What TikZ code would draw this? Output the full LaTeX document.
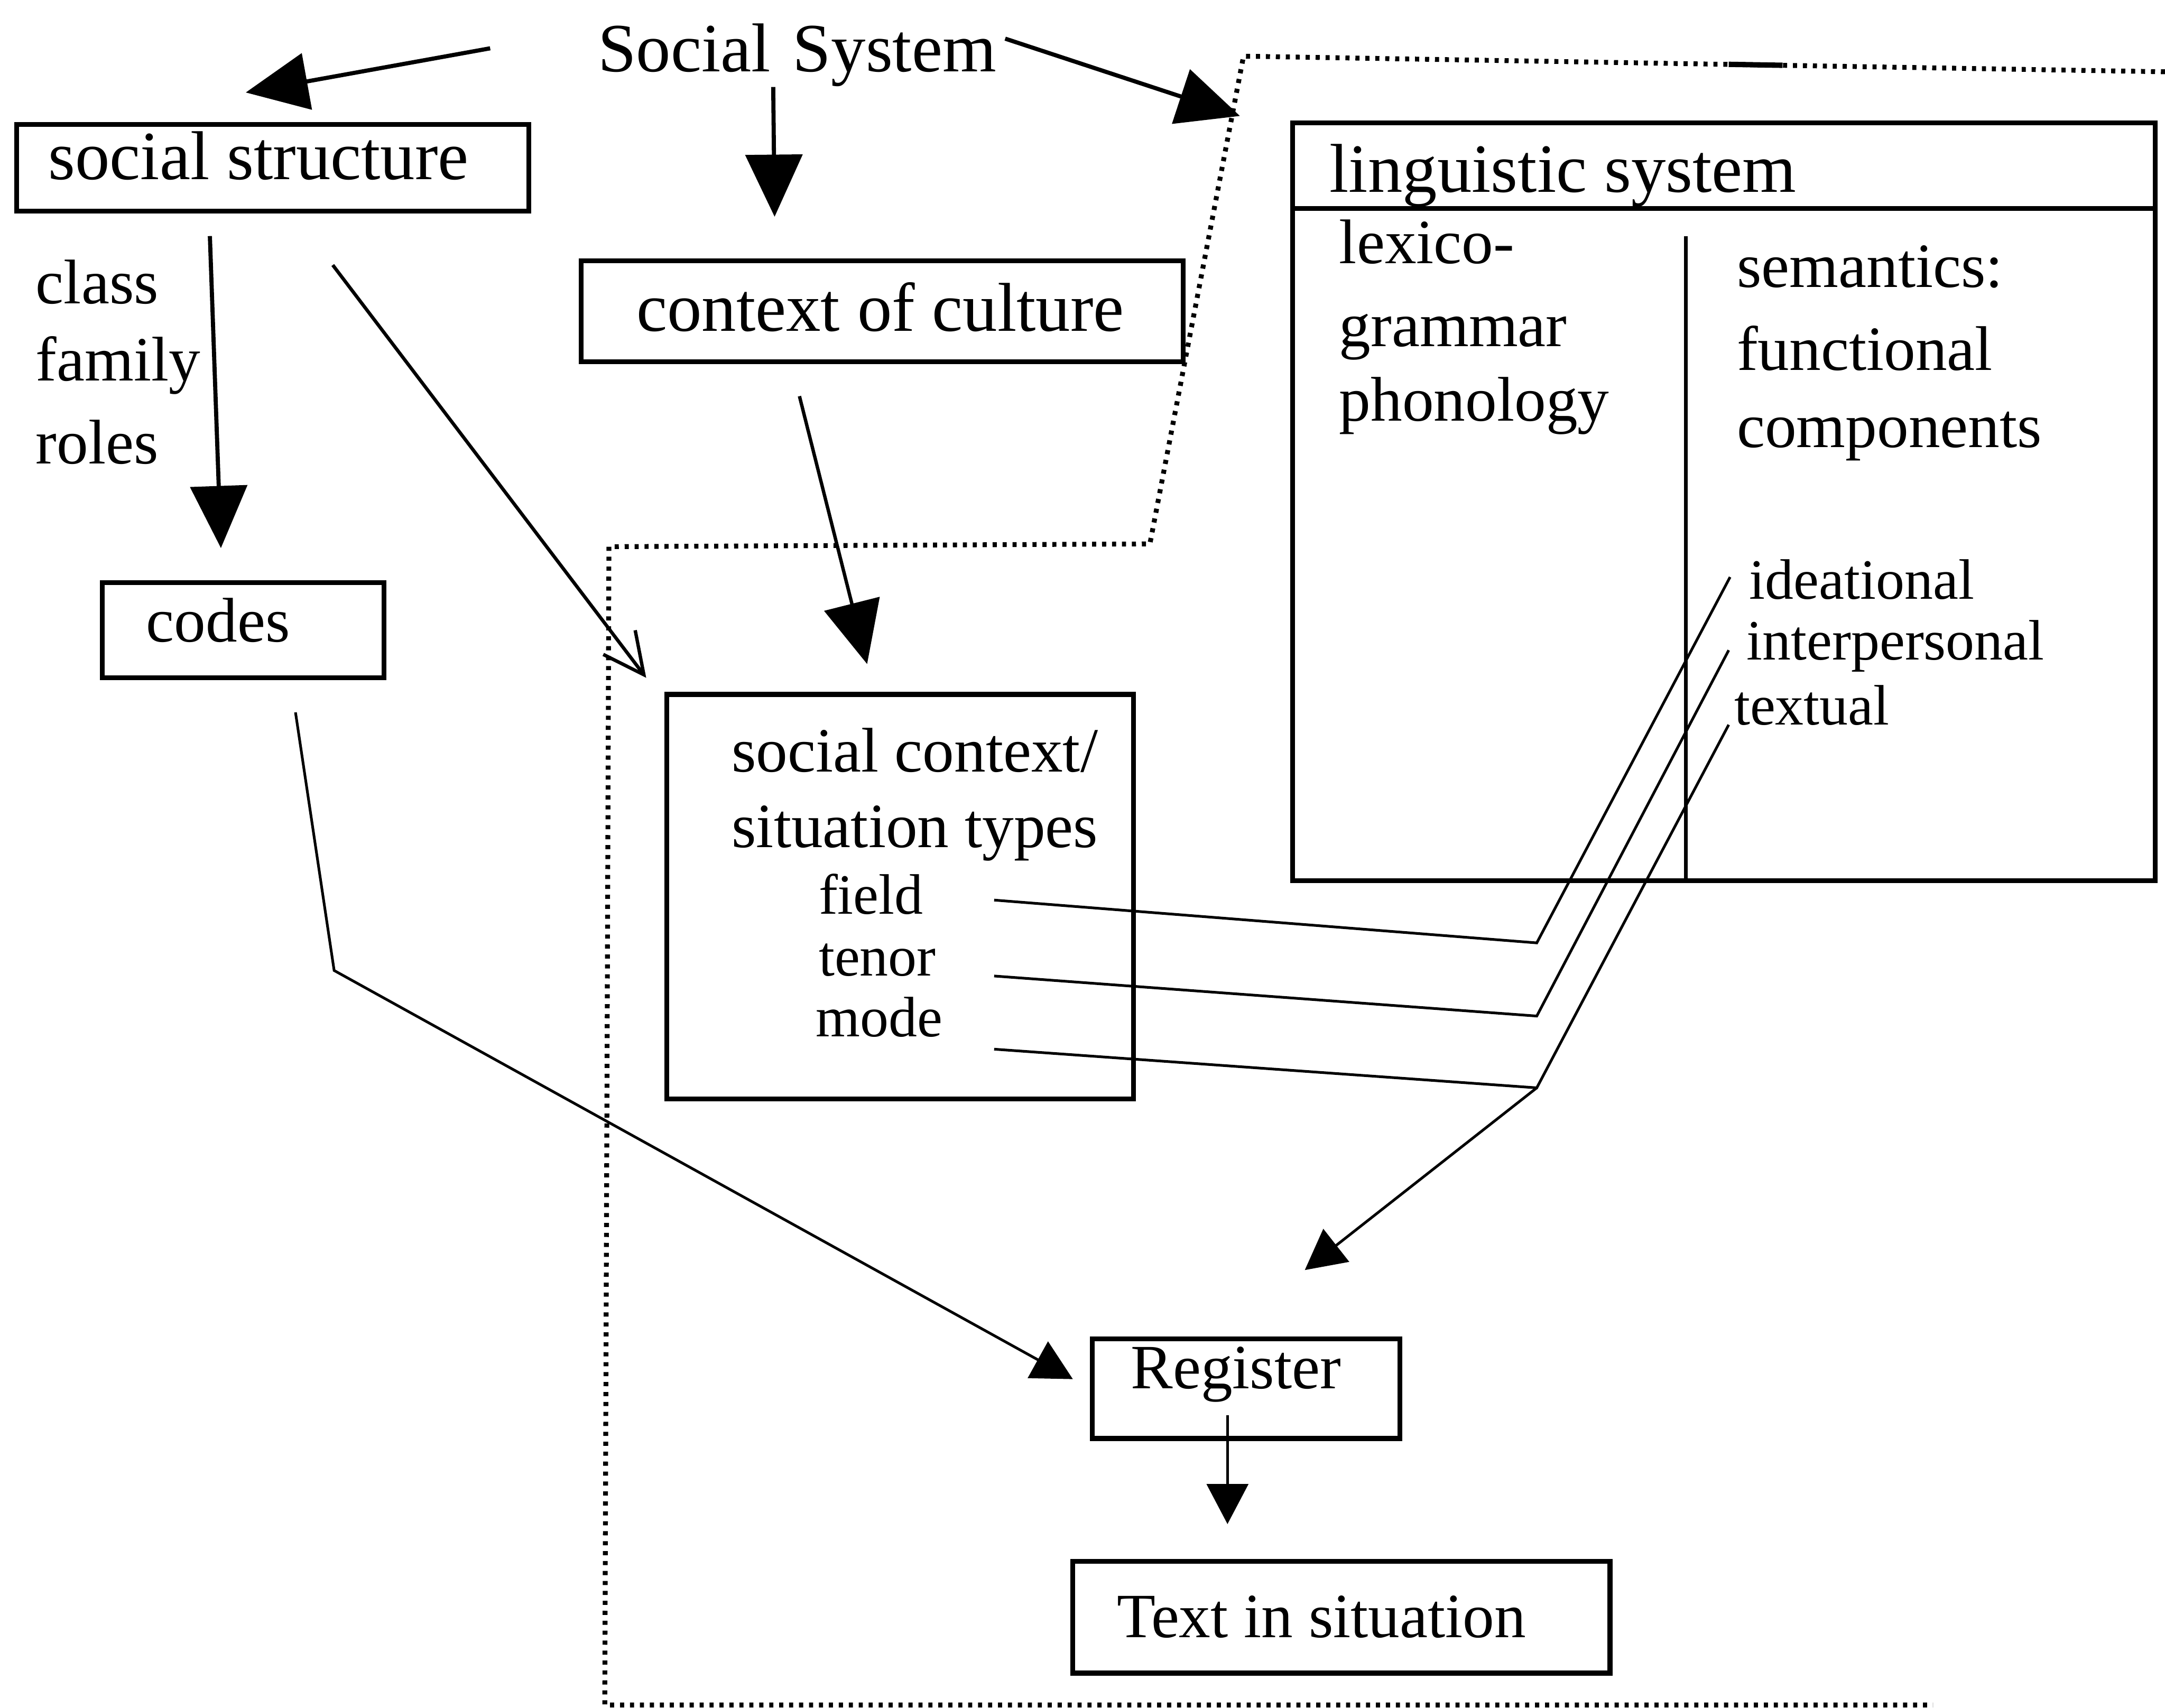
\documentclass[tikz,border=0pt]{standalone}
\usepackage{fontspec}
\setmainfont{Liberation Serif}
\usetikzlibrary{arrows.meta,fit}

\begin{document}
\begin{tikzpicture}[x=0.02cm,y=-0.02cm,
  box/.style={draw, line width=2pt, inner sep=0pt, outer sep=0pt},
  lbl/.style={anchor=base west, inner sep=0pt, outer sep=0pt},
  headtext/.style={font=\fontsize{28.5pt}{34pt}\selectfont},
  bodytext/.style={font=\fontsize{26pt}{31pt}\selectfont},
  smalltext/.style={font=\fontsize{23.5pt}{28pt}\selectfont},
  conn/.style={line width=1.1pt},
  midconn/.style={line width=1.4pt},
  boldconn/.style={line width=1.7pt},
  bigtip/.style={-{Triangle[length=0.9cm,width=0.82cm]}},
  smalltip/.style={-{Triangle[length=0.58cm,width=0.6cm]}},
  opentip/.style={-{Straight Barb[length=0.59cm,width=0.58cm]}},
  boundary/.style={line width=2pt, dash pattern=on 1.7pt off 2.4pt},
]
\useasboundingbox (0,0) rectangle (1568,1237);
\fill[white] (0,0) rectangle (1568,1237);

% ---- boxes ----
\node[box, fit={(12,90) (383,153)}] (ssbox) {};
\node[box, fit={(421,189) (857,262)}] (cocbox) {};
\node[box, fit={(74,422) (278,491)}] (codesbox) {};
\node[box, fit={(483,503) (821,796)}] (scbox) {};
\node[box, fit={(791,970) (1014,1042)}] (regbox) {};
\node[box, fit={(777,1131) (1166,1212)}] (tisbox) {};
\node[box, fit={(936,89) (1561,638)}] (lsbox) {};

% dividers of the linguistic system box
\coordinate (hdL) at (936,151);
\coordinate (hdR) at (1561,151);
\coordinate (vdT) at (1221,171);
\coordinate (vdB) at (1221,638);
\draw[line width=2pt] (hdL) -- (hdR);
\draw[line width=1.7pt] (vdT) -- (vdB);

% ---- texts ----
\node[lbl, headtext] (tsys) at (433,52) {Social\hspace{0.07em} System};
\node[lbl, headtext] (tss) at (35,130) {social structure};
\node[lbl, bodytext] (tclass) at (26,220) {class};
\node[lbl, bodytext] (tfamily) at (26,276) {family};
\node[lbl, bodytext] (troles) at (26,336) {roles};
\node[lbl, bodytext] (tcodes) at (106,465) {codes};
\node[lbl, headtext] (tcoc) at (461,240) {context of culture};
\node[lbl, headtext] (tls) at (963,139) {linguistic system};
\node[lbl, bodytext] (tlex) at (970,191) {lexico-};
\node[lbl, bodytext] (tgram) at (970,251) {grammar};
\node[lbl, bodytext] (tphon) at (970,305) {phonology};
\node[lbl, bodytext] (tsem) at (1258,208) {semantics:};
\node[lbl, bodytext] (tfunc) at (1258,268) {functional};
\node[lbl, bodytext] (tcomp) at (1258,324) {components};
\node[lbl, smalltext] (tide) at (1267,434) {ideational};
\node[lbl, smalltext] (tint) at (1265,478) {interpersonal};
\node[lbl, smalltext] (ttex) at (1256,525) {textual};
\node[lbl, bodytext] (tsc1) at (530,559) {social context/};
\node[lbl, bodytext] (tsc2) at (530,614) {situation types};
\node[lbl, smalltext] (tfield) at (593,662) {field};
\node[lbl, smalltext] (ttenor) at (593,707) {tenor};
\node[lbl, smalltext] (tmode) at (591,751) {mode};
\node[lbl, bodytext] (treg) at (819,1006) {Register};
\node[lbl, bodytext] (ttis) at (809,1186) {Text in situation};

% ---- connector end points ----
\coordinate (a1s) at (355,35);   \coordinate (a1e) at (178,67);
\coordinate (a2s) at (560,63);   \coordinate (a2e) at (561,157);
\coordinate (a3s) at (728,28);   \coordinate (a3e) at (898,84);
\coordinate (a4s) at (152,171);  \coordinate (a4e) at (160,397);
\coordinate (a5s) at (241,192);  \coordinate (a5e) at (468,491);
\coordinate (a6s) at (579,287);  \coordinate (a6e) at (628,481);
\coordinate (a7s) at (214,516);  \coordinate (a7k) at (242,703);
\coordinate (a7e) at (777,999);
\coordinate (a8s) at (889,1025); \coordinate (a8e) at (889,1104);
\coordinate (fS) at (720,652);   \coordinate (fK) at (1113,683);  \coordinate (fE) at (1253,418);
\coordinate (tS) at (720,707);   \coordinate (tK) at (1113,736);  \coordinate (tE) at (1252,471);
\coordinate (mS) at (720,760);   \coordinate (mK) at (1113,788);  \coordinate (mE) at (1252,525);
\coordinate (a9e) at (945,920);

% ---- connectors ----
\draw[boldconn, bigtip] (a1s) -- (a1e);
\draw[boldconn, bigtip] (a2s) -- (a2e);
\draw[boldconn, bigtip] (a3s) -- (a3e);
\draw[boldconn, bigtip] (a4s) -- (a4e);
\draw[midconn, opentip] (a5s) -- (a5e);
\draw[midconn, bigtip] (a6s) -- (a6e);
\draw[conn, smalltip] (a7s) -- (a7k) -- (a7e);
\draw[conn, smalltip] (a8s) -- (a8e);
\draw[conn] (fS) -- (fK) -- (fE);
\draw[conn] (tS) -- (tK) -- (tE);
\draw[conn] (mS) -- (mK) -- (mE);
\draw[conn, smalltip] (mK) -- (a9e);

% ---- dotted boundary of the situation ----
\coordinate (bTR) at (1568,52);
\coordinate (bTL) at (900.6,40.7);
\coordinate (bKR) at (832.8,394);
\coordinate (bKL) at (441,396);
\coordinate (bBL) at (438,1235);
\coordinate (bBR) at (1400,1235);
\draw[boundary] (bTR) -- (bTL) -- (bKR) -- (bKL) -- (bBL) -- (bBR);
\coordinate (sdA) at (1252,46.6);
\coordinate (sdB) at (1291,47.3);
\draw[line width=2.2pt] (sdA) -- (sdB);
\end{tikzpicture}
\end{document}
